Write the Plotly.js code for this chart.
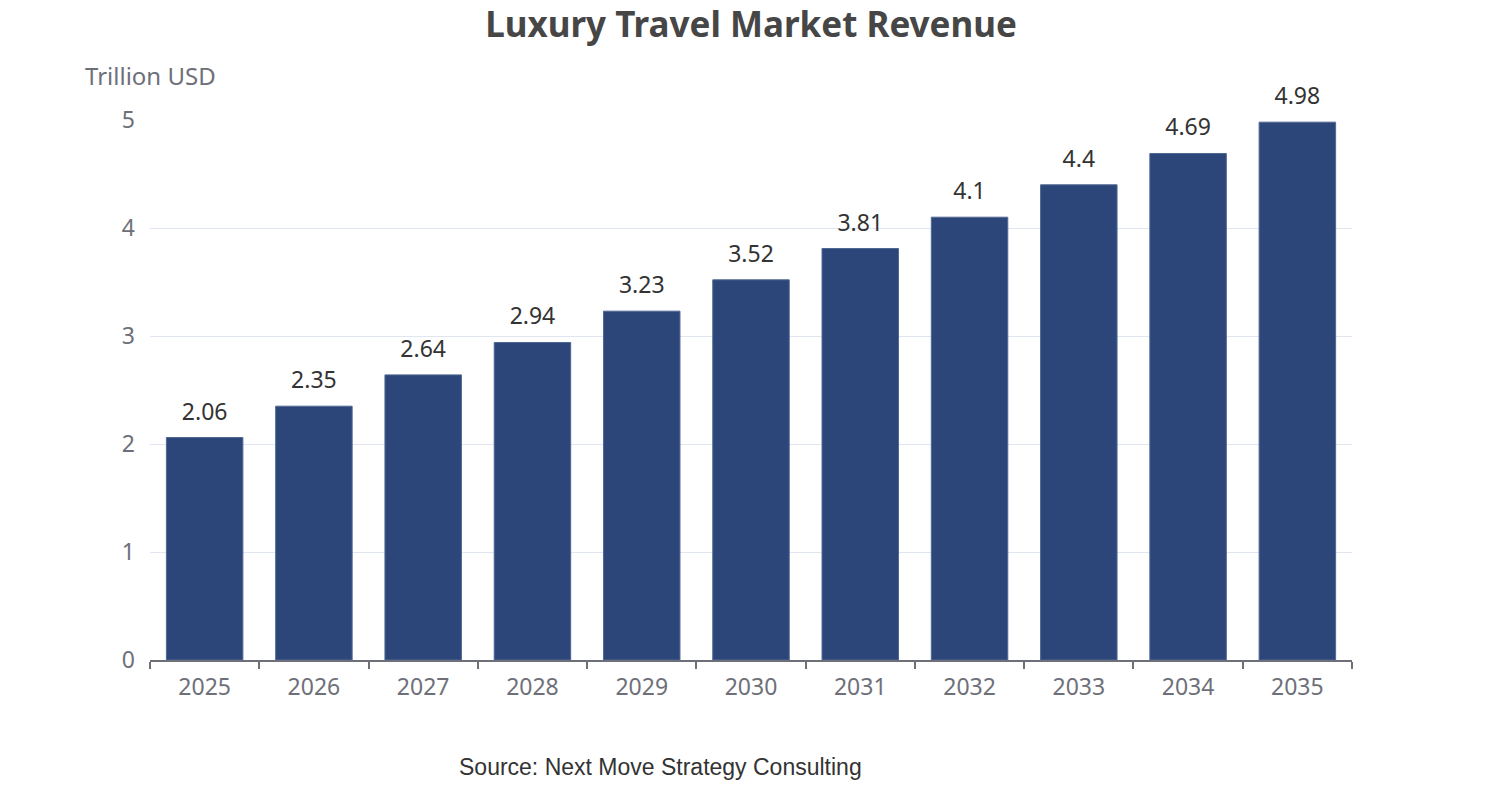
<!DOCTYPE html>
<html>
<head>
<meta charset="utf-8">
<script src="https://cdn.plot.ly/plotly-3.0.1.min.js"></script>
<style>
  html, body { margin: 0; padding: 0; background: #fff; }
  #chart { width: 1502px; height: 800px; }
</style>
</head>
<body>
<div id="chart"></div>
<script>
// 연도별 매출 (조 달러)
const years = ['2025', '2026', '2027', '2028', '2029', '2030', '2031', '2032', '2033', '2034', '2035'];
const revenue = [2.06, 2.35, 2.64, 2.94, 3.23, 3.52, 3.81, 4.1, 4.4, 4.69, 4.98];
const yTicks = [0, 1, 2, 3, 4, 5];

const axisGrey = '#6e7079';
const font = '"Noto Sans", "Open Sans", sans-serif';

const bars = {
  type: 'bar',
  x: years,
  y: revenue,
  marker: { color: '#2c4679', line: { color: '#506893', width: 1 } },
  hoverinfo: 'x+y'
};

// 값 라벨: 막대 위에 조금 띄워서 표시
const labels = {
  type: 'scatter',
  mode: 'markers+text',
  x: years,
  y: revenue,
  text: revenue.map(String),
  textposition: 'top center',
  textfont: { family: font, size: 23, color: '#333' },
  marker: { size: 18, color: 'rgba(0,0,0,0)' },
  cliponaxis: false,
  hoverinfo: 'skip'
};

const layout = {
  width: 1502,
  height: 800,
  margin: { l: 150, r: 150, t: 120, b: 140 },
  paper_bgcolor: '#fff',
  plot_bgcolor: '#fff',
  bargap: 0.3,
  showlegend: false,
  title: {
    text: '<b>Luxury Travel Market Revenue</b>',
    font: { family: font, size: 35, color: '#464646' },
    x: 0.5, xanchor: 'center',
    y: 1 - 25 / 800, yref: 'container', yanchor: 'middle'
  },
  xaxis: {
    type: 'category',
    range: [-0.5, years.length - 0.5],
    tickson: 'boundaries',
    ticks: 'outside',
    ticklen: 7,
    tickcolor: axisGrey,
    tickwidth: 2,
    showline: true,
    linecolor: axisGrey,
    linewidth: 2,
    showgrid: false,
    tickfont: { family: font, size: 23, color: axisGrey },
    ticklabelstandoff: 5
  },
  yaxis: {
    range: [0, 5],
    tickvals: yTicks,
    showline: false,
    zeroline: false,
    gridcolor: '#e0e6f1',
    gridwidth: 1,
    tickfont: { family: font, size: 23, color: axisGrey },
    ticklabelstandoff: 14
  },
  annotations: [
    {
      text: 'Trillion USD',
      xref: 'paper', yref: 'paper',
      x: (83 - 150) / 1202, y: (660 - 75) / 540,
      xanchor: 'left', yanchor: 'middle',
      showarrow: false,
      font: { family: font, size: 24, color: axisGrey }
    },
    {
      text: 'Source: Next Move Strategy Consulting',
      xref: 'paper', yref: 'paper',
      x: (660 - 150) / 1202, y: (660 - 767) / 540,
      xanchor: 'center', yanchor: 'middle',
      showarrow: false,
      font: { family: '"Liberation Sans", Arial, sans-serif', size: 23, color: '#333' }
    }
  ]
};

Plotly.newPlot('chart', [bars, labels], layout, { displayModeBar: false });
</script>
</body>
</html>
